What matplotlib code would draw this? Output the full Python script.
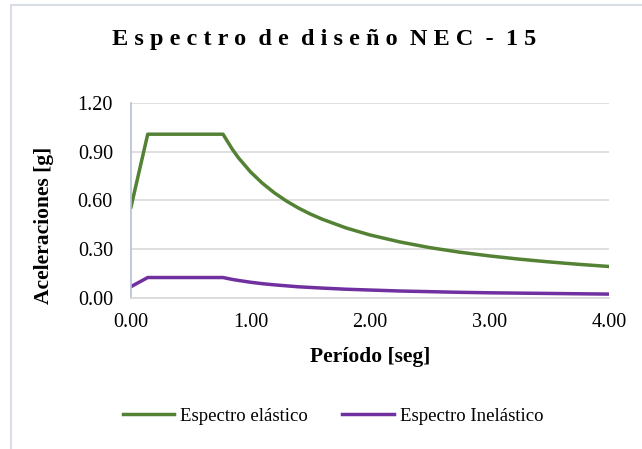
import matplotlib.pyplot as plt
from matplotlib.patches import Rectangle

# Periodo (s) y aceleraciones espectrales (g)
periodos = [0.00, 0.14, 0.77, 0.85, 0.90, 1.00, 1.10, 1.20, 1.30, 1.40, 1.50, 1.60,
            1.80, 2.00, 2.25, 2.50, 2.75, 3.00, 3.25, 3.50, 3.75, 4.00]
sa_elastico = [0.560, 1.008, 1.008, 0.913, 0.862, 0.776, 0.706, 0.647, 0.597, 0.554,
               0.517, 0.485, 0.431, 0.388, 0.345, 0.310, 0.282, 0.259, 0.239, 0.222,
               0.207, 0.194]
sa_inelastico = [0.070, 0.126, 0.126, 0.114, 0.108, 0.097, 0.088, 0.081, 0.075, 0.069,
                 0.065, 0.061, 0.054, 0.049, 0.043, 0.039, 0.035, 0.032, 0.030, 0.028,
                 0.026, 0.024]

y_ticks = [0.00, 0.30, 0.60, 0.90, 1.20]
x_ticks = [0.00, 1.00, 2.00, 3.00, 4.00]

verde = '#548235'
morado = '#7030A0'
serif = 'Liberation Serif'

plt.rcParams['font.family'] = serif

fig = plt.figure(figsize=(6.42, 4.49), dpi=100)
fig.patches.append(Rectangle((11 / 642, -0.1), 1.2, 1 - 5 / 449 + 0.1,
                             transform=fig.transFigure, fill=False,
                             edgecolor='#D9DEE6', linewidth=1.5))

ax = fig.add_axes([131 / 642, 1 - 298 / 449, (609 - 131) / 642, (298 - 103) / 449])
ax.plot(periodos, sa_elastico, color=verde, linewidth=2.5, label='Espectro elástico')
ax.plot(periodos, sa_inelastico, color=morado, linewidth=2.5, label='Espectro Inelástico')

ax.set_xlim(0, 4)
ax.set_ylim(0, 1.2)
ax.set_xticks(x_ticks)
ax.set_yticks(y_ticks)
ax.set_xticklabels([f'{v:.2f}' for v in x_ticks])
ax.set_yticklabels([f'{v:.2f}' for v in y_ticks])
ax.tick_params(length=0, labelsize=14.5, colors='#000000')
ax.tick_params(axis='x', pad=11)
ax.tick_params(axis='y', pad=13)
ax.grid(axis='y', color='#D9D9D9', linewidth=1.2)
ax.set_axisbelow(True)
for s in ['top', 'right']:
    ax.spines[s].set_visible(False)
ax.spines['left'].set_color('#B4C0D6')
ax.spines['left'].set_linewidth(1.2)
ax.spines['bottom'].set_color('#D9D9D9')
ax.spines['bottom'].set_linewidth(1.2)

ax.set_xlabel('Período [seg]', fontsize=15.5, fontweight='bold', va='top')
ax.xaxis.set_label_coords(0.5, -0.25)
ax.set_ylabel('Aceleraciones [g]', fontsize=15.5, fontweight='bold')
ax.yaxis.set_label_coords(-0.161, 0.374)

titulo = 'Espectro de diseño NEC - 15'
fig.text(324 / 642, 1 - 40 / 449, ' '.join(titulo).replace('   ', '  '),
         ha='center', va='center', fontsize=17.5, fontweight='bold')

fig.legend(loc='center', bbox_to_anchor=(333 / 642, 1 - 416 / 449), ncol=2, frameon=False,
           fontsize=13.5, handlelength=2.75, columnspacing=1.85, handletextpad=0.3)

fig.savefig('out.png', dpi=100)
